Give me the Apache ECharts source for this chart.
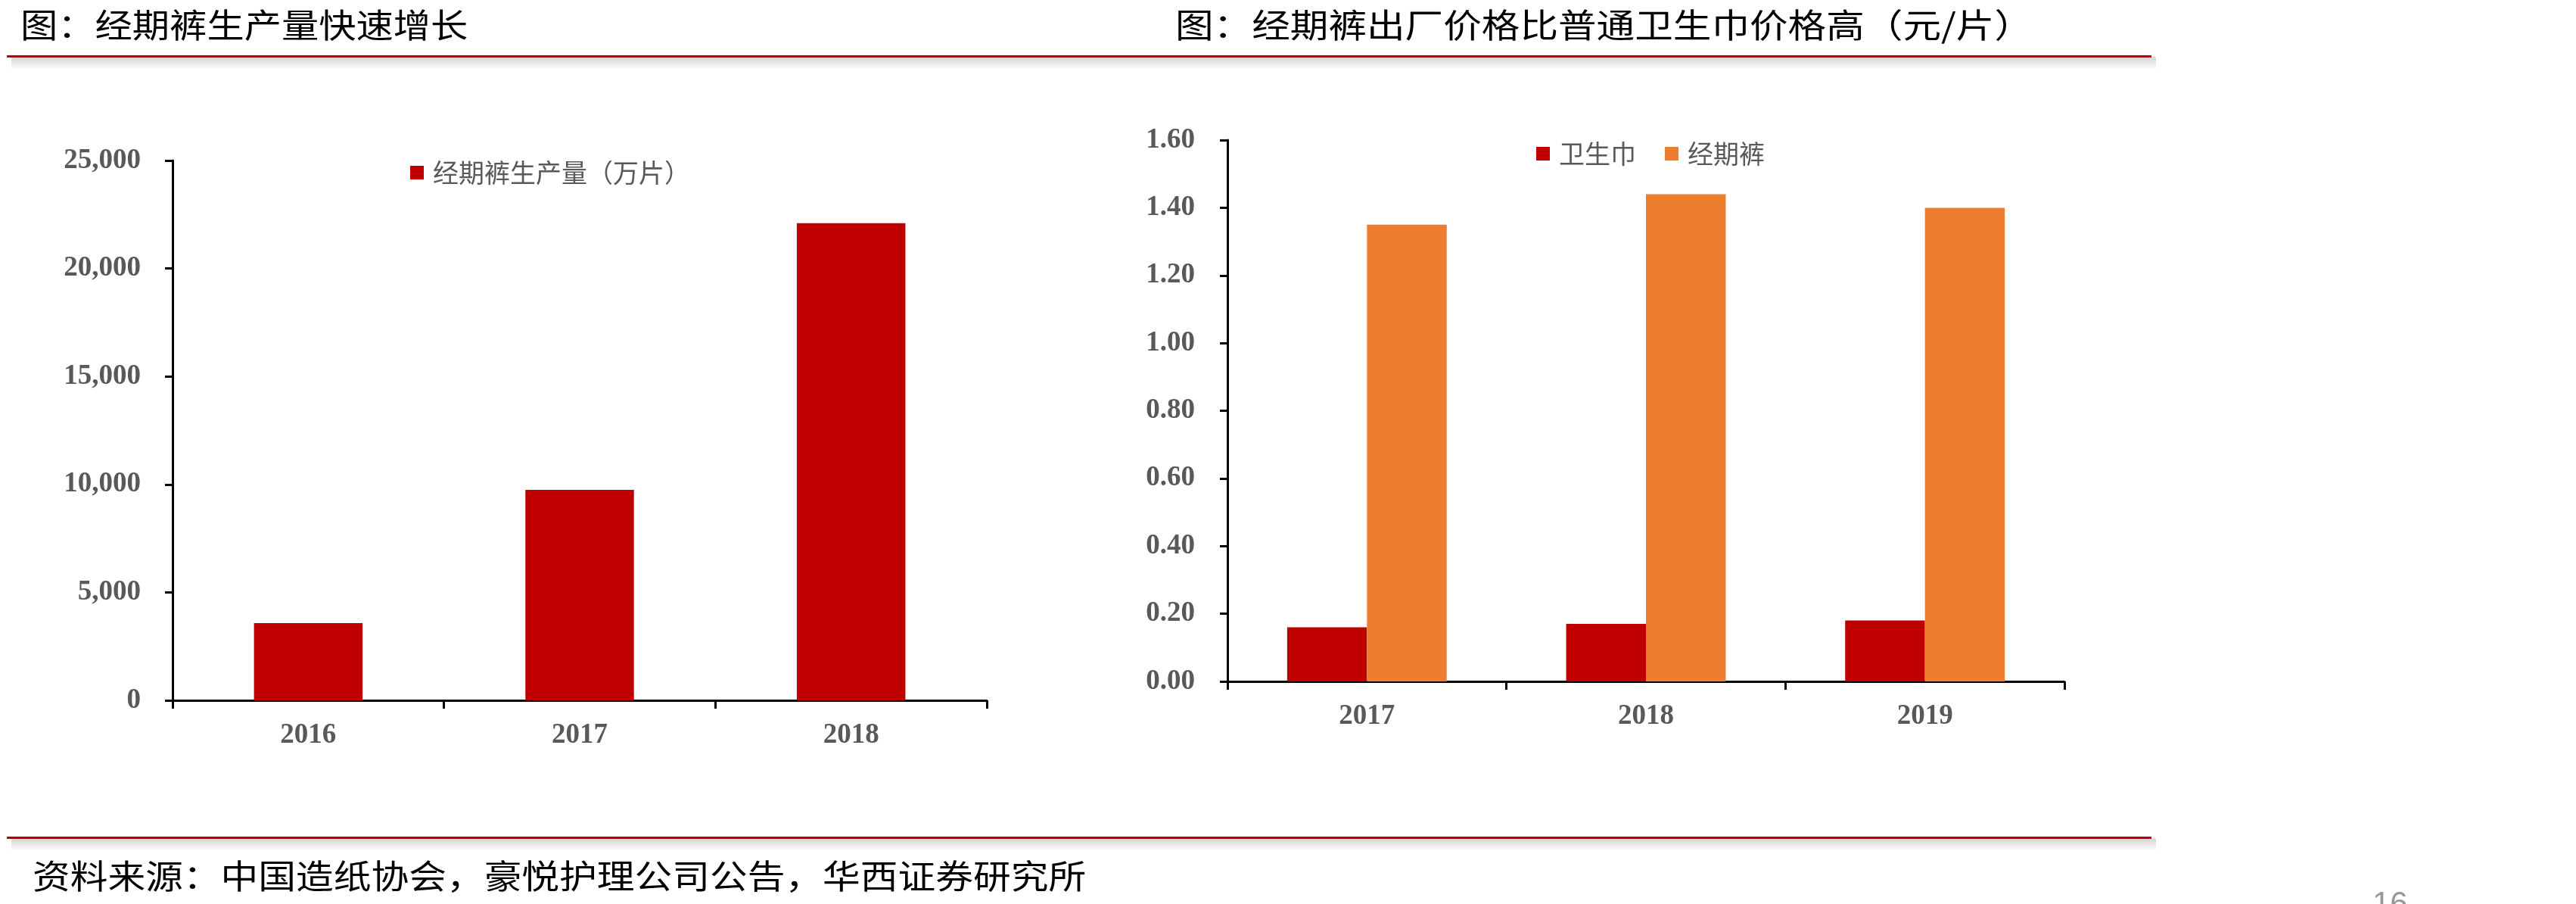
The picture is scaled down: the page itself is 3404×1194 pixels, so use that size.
<!DOCTYPE html>
<html>
<head>
<meta charset="utf-8">
<script src="https://cdn.jsdelivr.net/npm/echarts@6/dist/echarts.min.js"></script>
<style>
	html, body { margin: 0; padding: 0; background: #fff; }
	#chart { width: 3404px; height: 1194px; }
</style>
</head>
<body>
<div id="chart"></div>
<script>
	// left chart: production
	const prodYears = ['2016', '2017', '2018'];
	const prodValues = [3580, 9750, 22100];
	const prodName = '经期裤生产量（万片）';

	// right chart: price per piece
	const priceYears = ['2017', '2018', '2019'];
	const padPrice = [0.16, 0.17, 0.18];
	const pantsPrice = [1.35, 1.44, 1.40];
	const padName = '卫生巾';
	const pantsName = '经期裤';

	const titleLeft = '图：经期裤生产量快速增长';
	const titleRight = '图：经期裤出厂价格比普通卫生巾价格高（元/片）';
	const sourceText = '资料来源：中国造纸协会，豪悦护理公司公告，华西证券研究所';

	const RED = '#C00000';
	const ORANGE = '#ED7D31';
	const GREY = '#595959';
	const CJK = '"Noto Sans CJK SC", sans-serif';
	const NUM = '"Liberation Serif", "Times New Roman", serif';

	var chart = echarts.init(document.getElementById('chart'));

	function axisX(gridIndex, data) {
		return {
			type: 'category',
			gridIndex: gridIndex,
			data: data,
			boundaryGap: true,
			axisLine: { lineStyle: { color: '#000', width: 3 } },
			axisTick: { show: true, length: 11, lineStyle: { color: '#000', width: 3 } },
			axisLabel: { margin: 28, fontFamily: NUM, fontWeight: 'bold', fontSize: 37, color: GREY }
		};
	}

	function axisY(gridIndex, max, interval, fmt, margin) {
		return {
			type: 'value',
			gridIndex: gridIndex,
			min: 0,
			max: max,
			interval: interval,
			splitLine: { show: false },
			axisLine: { show: true, lineStyle: { color: '#000', width: 3 } },
			axisTick: { show: true, length: 10, lineStyle: { color: '#000', width: 3 } },
			axisLabel: { margin: margin, fontFamily: NUM, fontWeight: 'bold', fontSize: 37, color: GREY, formatter: fmt }
		};
	}

	function redLine(x, y, w) {
		return [
			{
				type: 'rect',
				shape: { x: x + 6, y: y + 3, width: w, height: 16 },
				style: {
					fill: new echarts.graphic.LinearGradient(0, 0, 0, 1, [
						{ offset: 0, color: '#d4d4d4' },
						{ offset: 1, color: '#ffffff' }
					])
				},
				silent: true
			},
			{
				type: 'rect',
				shape: { x: x, y: y, width: w, height: 3 },
				style: { fill: RED },
				silent: true
			}
		];
	}

	function label(text, x, y, size, sx, color) {
		return {
			type: 'text',
			x: x,
			y: y,
			scaleX: sx,
			style: {
				text: text,
				fontFamily: CJK,
				fontSize: size,
				fill: color,
				align: 'left',
				verticalAlign: 'middle'
			},
			silent: true
		};
	}

	var option = {
		animation: false,
		backgroundColor: '#fff',
		grid: [
			{ left: 228, top: 212, width: 1076, height: 713 },
			{ left: 1622, top: 185, width: 1106, height: 715 }
		],
		legend: [
			{
				data: [prodName],
				left: 537,
				top: 206,
				icon: 'rect',
				itemWidth: 18,
				itemHeight: 18,
				textStyle: { fontFamily: CJK, fontSize: 34, color: GREY, padding: [0, 0, 0, 7] }
			},
			{
				data: [padName, pantsName],
				left: 2025,
				top: 181,
				icon: 'rect',
				itemWidth: 18,
				itemHeight: 18,
				itemGap: 38,
				textStyle: { fontFamily: CJK, fontSize: 34, color: GREY, padding: [0, 0, 0, 7] }
			}
		],
		xAxis: [axisX(0, prodYears), axisX(1, priceYears)],
		yAxis: [
			axisY(0, 25000, 5000, function (v) { return v.toLocaleString('en-US'); }, 42),
			axisY(1, 1.6, 0.2, function (v) { return v.toFixed(2); }, 43)
		],
		series: [
			{
				name: prodName,
				type: 'bar',
				xAxisIndex: 0,
				yAxisIndex: 0,
				data: prodValues,
				barWidth: '40%',
				itemStyle: { color: RED }
			},
			{
				name: padName,
				type: 'bar',
				xAxisIndex: 1,
				yAxisIndex: 1,
				data: padPrice,
				barWidth: '28.6%',
				barGap: '0%',
				itemStyle: { color: RED }
			},
			{
				name: pantsName,
				type: 'bar',
				xAxisIndex: 1,
				yAxisIndex: 1,
				data: pantsPrice,
				barWidth: '28.6%',
				barGap: '0%',
				itemStyle: { color: ORANGE }
			}
		],
		graphic: [].concat(
			redLine(9, 73, 2834),
			redLine(9, 1105, 2834),
			[
				label(titleLeft, 27, 33, 44, 1.12, '#000'),
				label(titleRight, 1553, 33, 44, 1.15, '#000'),
				label(sourceText, 43, 1157, 44, 1.13, '#000'),
				{
					type: 'text',
					x: 3135,
					y: 1174,
					style: {
						text: '16',
						fontFamily: 'Arial, "Liberation Sans", sans-serif',
						fontSize: 42,
						fill: '#999',
						verticalAlign: 'top'
					},
					silent: true
				}
			]
		)
	};

	chart.setOption(option);
</script>
</body>
</html>
